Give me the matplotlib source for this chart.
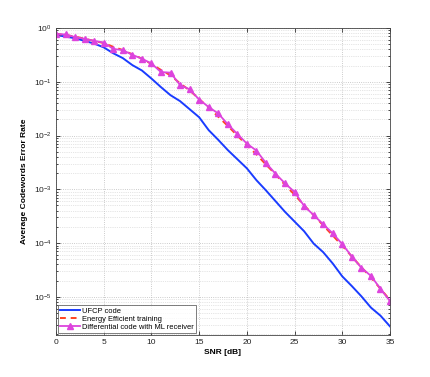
import numpy as np
import matplotlib
matplotlib.use("Agg")
import matplotlib.pyplot as plt
from matplotlib.ticker import LogLocator, NullFormatter, FixedLocator

plt.rcParams["font.family"] = ["Liberation Sans", "DejaVu Sans"]
plt.rcParams["mathtext.fontset"] = "custom"
plt.rcParams["mathtext.rm"] = "Liberation Sans"
plt.rcParams["mathtext.it"] = "Liberation Sans:italic"
plt.rcParams["mathtext.bf"] = "Liberation Sans:bold"

snr = list(range(0, 36))

# log10 of error rate
ufcp_log = [-0.13, -0.16, -0.19, -0.24, -0.29, -0.36, -0.47, -0.56, -0.69, -0.79,
            -0.94, -1.10, -1.25, -1.36, -1.51, -1.66, -1.90, -2.08, -2.27, -2.44,
            -2.61, -2.83, -3.02, -3.22, -3.42, -3.60, -3.78, -4.01, -4.17, -4.38,
            -4.62, -4.80, -4.99, -5.20, -5.35, -5.55]
energy_log = [-0.11, -0.13, -0.16, -0.20, -0.24, -0.28, -0.35, -0.41, -0.49, -0.57,
              -0.67, -0.78, -0.88, -1.03, -1.16, -1.32, -1.48, -1.65, -1.82, -2.00,
              -2.18, -2.35, -2.54, -2.72, -2.92, -3.10, -3.30, -3.48, -3.67, -3.86,
              -4.05, -4.25, -4.45, -4.64, -4.85, -5.06]
diff_log = [-0.11, -0.12, -0.17, -0.20, -0.24, -0.27, -0.39, -0.41, -0.50, -0.57,
            -0.66, -0.82, -0.83, -1.06, -1.14, -1.33, -1.47, -1.59, -1.79, -1.97,
            -2.15, -2.28, -2.51, -2.71, -2.89, -3.05, -3.31, -3.48, -3.65, -3.82,
            -4.02, -4.25, -4.46, -4.61, -4.85, -5.08]

ufcp = [10 ** v for v in ufcp_log]
energy = [10 ** v for v in energy_log]
diff = [10 ** v for v in diff_log]

labels = ["UFCP code", "Energy Efficient training", "Differential code with ML receiver"]

fig = plt.figure(figsize=(4.31, 3.77), dpi=100)
ax = fig.add_axes([56 / 431, 1 - 335 / 377, (390 - 56) / 431, (335 - 28) / 377])

ax.semilogy(snr, ufcp, color="#1a3cff", lw=1.4, label=labels[0])
ax.semilogy(snr, energy, color="#ff4422", lw=1.4, ls=(0, (3, 2.5)), label=labels[1])
ax.semilogy(snr, diff, color="#dd44dd", lw=1.3, marker="^", ms=4.5,
            markeredgecolor="#dd44dd", label=labels[2])

ax.set_xlim(0, 35)
ax.set_ylim(10 ** -5.71, 1)
ax.xaxis.set_major_locator(FixedLocator([0, 5, 10, 15, 20, 25, 30, 35]))
ax.yaxis.set_major_locator(LogLocator(base=10, numticks=10))
ax.yaxis.set_minor_locator(LogLocator(base=10, subs=np.arange(2, 10), numticks=20))
ax.yaxis.set_minor_formatter(NullFormatter())

ax.grid(True, which="major", axis="both", color="#bbbbbb", ls=":", lw=0.6)
ax.grid(True, which="minor", axis="y", color="#cccccc", ls=":", lw=0.5)

ax.tick_params(which="both", direction="in", top=True, right=True, labelsize=6,
               length=3, width=0.5, pad=3, labelcolor="#222222")
ax.tick_params(which="minor", length=1.5)
for s in ax.spines.values():
    s.set_linewidth(0.6)
    s.set_color("#444444")

ax.set_xlabel("SNR [dB]", fontsize=6, fontweight="bold", labelpad=2)
ax.set_ylabel("Average Codewords Error Rate", fontsize=6, fontweight="bold", labelpad=4)

leg = ax.legend(loc="lower left", fontsize=5.4, frameon=True, fancybox=False,
                edgecolor="#444444", handlelength=2.7, borderpad=0.3, labelspacing=0.12,
                borderaxespad=0.25, handletextpad=0.15)
leg.get_frame().set_linewidth(0.6)

fig.savefig("out.png", dpi=100)
